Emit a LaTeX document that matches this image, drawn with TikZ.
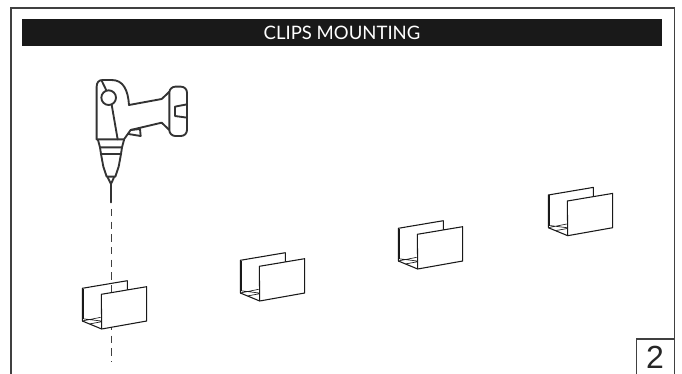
\documentclass[tikz,border=0pt]{standalone}
\usepackage{fontspec}
\setmainfont{Liberation Sans}
\newfontfamily\titlefont{Lato}
\tikzset{
    framing/.style = {
        line width = 1.3pt,
        draw = black!75,
    },
    titlebar/.style = {
        rectangle,
        fill = black!90,
        text = white,
        minimum width = 480pt,
        minimum height = 20.25pt,
        inner sep = 0pt,
        font = \titlefont\fontsize{13.9}{13.9}\selectfont,
    },
    numberlabel/.style = {
        inner sep = 0pt,
        font = \fontsize{24}{24}\selectfont,
        text = black!85,
    },
    outline/.style = {
        line width = 1.4pt,
        draw = black!80,
        line join = round,
        line cap = round,
    },
    plate/.style = {
        line width = 0.8pt,
        draw = black!90,
        line join = round,
    },
    dashline/.style = {
        line width = 0.6pt,
        draw = black!75,
        dash pattern = on 5.6pt off 3.9pt,
    },
    ubracket/.pic = {
        % back plate and base
        \draw[plate] (0,32.7) -- (0,0) -- (45,-7.6) -- (45,1.5);
        \draw[plate] (0,32.7) -- (19.4,40.7);
        \draw[plate] (1.3,0.5) -- (1.3,31);
        \draw[plate, line width = 0.5pt] (0,32.7) -- (18.4,29) (1,30.5) -- (18.7,32.7) (8,35.5) -- (19,33.5);
        % front plate
        \draw[plate, fill = white] (19,6) -- (64.4,-1.6) -- (64.4,32.7) -- (19.4,40.7) -- cycle;
    },
}

\begin{document}
\begin{tikzpicture}[x=0.75pt, y=-0.75pt]

  \useasboundingbox (0,0) rectangle (682,374);

  % Frame, open at the bottom
  \draw[framing] (11,374) -- (11,8) -- (674.5,8) -- (674.5,374);

  % Title and number
  \node[titlebar] (title) at (342,32.5) {CLIPS MOUNTING};
  \draw[framing, line width = 1pt] (636.5,374) -- (636.5,339) -- (674.5,339);
  \node[numberlabel] (number) at (655,357.5) {2};

  % Drill axis
  \coordinate (bittip) at (111,209);
  \coordinate (axisend) at (111,362);
  \draw[dashline] (bittip) -- (axisend);

  % Clips
  \pic at (82.3,288.3)  {ubracket};
  \pic at (240.3,260.3) {ubracket};
  \pic at (398.3,228.3) {ubracket};
  \pic at (548.3,195)   {ubracket};

  % Drill
  \begin{scope}[shift={(60,60)}, x=0.25pt, y=-0.25pt]
    % housing
    \draw[outline] (110,238) -- (110,80) .. controls (110,68) and (116,60) .. (128,60)
      -- (155,60) .. controls (190,60) and (204,90) .. (207,135) -- (305,117)
      -- (320,103) -- (328,95);
    \draw[outline] (110,238) -- (192,238) -- (212,210) -- (305,188) -- (328,210);
    \draw[outline] (125,62) -- (139,91);
    \draw[outline] (146,113) circle (22);
    \draw[outline] (155,134) -- (173,238);
    % trigger
    \draw[outline] (212,210) -- (240,207) -- (242,228) -- (205,222);
    % battery
    \draw[outline, rounded corners = 4.5pt] (328,80) rectangle (381,228);
    \draw[outline] (381,133) -- (345,140) -- (345,168) -- (381,173);
    % chuck
    \draw[outline] (114,240) -- (120,262) -- (186,262) -- (192,240);
    \draw[outline] (120,262) -- (123,282) -- (183,282) -- (186,262);
    \draw[outline] (123,282) -- (130,320) -- (140,350) -- (166,350) -- (176,320) -- (183,282);
    \draw[outline] (143,352) -- (153,372) -- (162,352);
    \draw[outline] (153,372) -- (153,427);
  \end{scope}

\end{tikzpicture}
\end{document}
